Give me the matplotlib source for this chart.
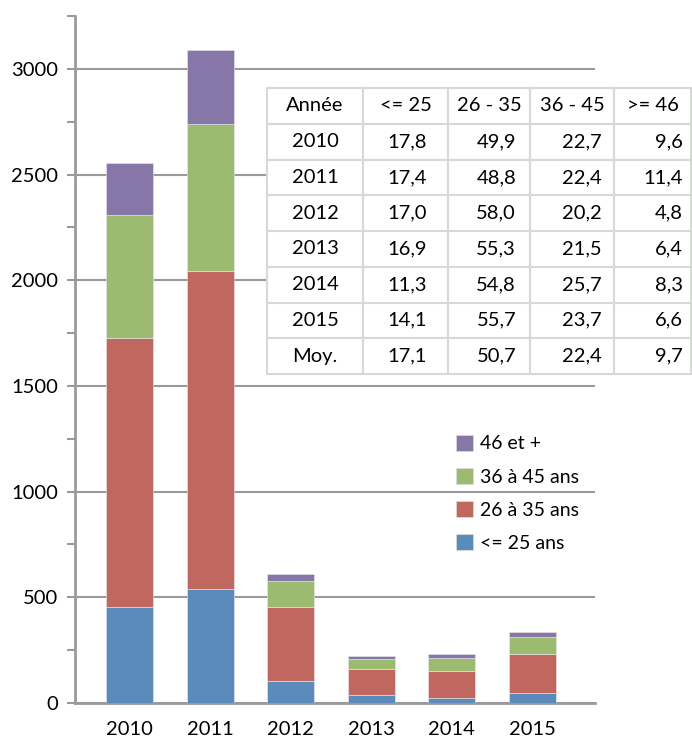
import numpy as np
import matplotlib
matplotlib.use("Agg")
import matplotlib.pyplot as plt
from matplotlib.patches import Patch
from matplotlib.ticker import MultipleLocator

plt.rcParams['font.family'] = ['Lato', 'DejaVu Sans']

# ========================================
# DATA
# ========================================
years = ['2010', '2011', '2012', '2013', '2014', '2015']
age_25 = [454, 538, 103, 37, 26, 47]
age_26_35 = [1274, 1508, 353, 122, 127, 187]
age_36_45 = [580, 692, 123, 47, 60, 79]
age_46 = [245, 352, 29, 14, 19, 22]

series_labels = ['<= 25 ans', '26 à 35 ans', '36 à 45 ans', '46 et +']
series_colors = ['#5A8BBB', '#C0675F', '#9DBB70', '#8677A8']

table_header = ['Année', '<= 25', '26 - 35', '36 - 45', '>= 46']
table_rows = [
    ['2010', '17,8', '49,9', '22,7', '9,6'],
    ['2011', '17,4', '48,8', '22,4', '11,4'],
    ['2012', '17,0', '58,0', '20,2', '4,8'],
    ['2013', '16,9', '55,3', '21,5', '6,4'],
    ['2014', '11,3', '54,8', '25,7', '8,3'],
    ['2015', '14,1', '55,7', '23,7', '6,6'],
    ['Moy.', '17,1', '50,7', '22,4', '9,7'],
]

# ========================================
# STACKED BARS
# ========================================
W, H = 692, 742
fig = plt.figure(figsize=(W / 100, H / 100), dpi=100)
ax = fig.add_axes([75 / W, 39 / H, 520 / W, 687 / H])

x = np.arange(len(years))
bottom = np.zeros(len(years))
for values, color in zip([age_25, age_26_35, age_36_45, age_46], series_colors):
    ax.bar(x, values, width=0.58, bottom=bottom, color=color,
           edgecolor='#e8e8f0', linewidth=0.4, zorder=3)
    bottom += np.array(values)

ax.set_xlim(-0.68, 5.78)
ax.set_ylim(0, 3250)
ax.set_xticks(x)
ax.set_xticklabels(years)
ax.yaxis.set_major_locator(MultipleLocator(500))
ax.yaxis.set_minor_locator(MultipleLocator(250))
ax.set_yticks(np.arange(0, 3001, 500))

ax.grid(True, axis='y', which='major', color='#9a9a9a', linewidth=1.5, zorder=0)
for side in ['top', 'right']:
    ax.spines[side].set_visible(False)
ax.spines['left'].set_color('#9a9a9a')
ax.spines['left'].set_linewidth(2)
ax.spines['bottom'].set_color('#9a9a9a')
ax.spines['bottom'].set_linewidth(2)

ax.tick_params(axis='x', length=0, pad=13, labelsize=14.5)
ax.tick_params(axis='y', which='both', length=6, width=1.5, color='#9a9a9a',
               pad=6, labelsize=14.5)

# ========================================
# LEGEND
# ========================================
handles = [Patch(facecolor=c, edgecolor='#dddddd', linewidth=0.5)
           for c in series_colors]
fig.legend(handles[::-1], series_labels[::-1], loc='upper left',
           bbox_to_anchor=(456 / W, 1 - 435 / H), frameon=False,
           fontsize=14, handlelength=0.85, handleheight=0.85,
           handletextpad=0.4, labelspacing=0.8, borderpad=0,
           borderaxespad=0)

# ========================================
# TABLE OF PERCENTAGES
# ========================================
tax = fig.add_axes([267 / W, 1 - 374 / H, 424 / W, 286 / H])
tax.axis('off')
col_widths = [96, 85, 82, 84, 77]
tbl = tax.table(cellText=table_rows, colLabels=table_header,
                colWidths=[w / sum(col_widths) for w in col_widths],
                bbox=[0, 0, 1, 1], cellLoc='center')
tbl.auto_set_font_size(False)
tbl.set_fontsize(14.5)
right_pad = {1: 0.25, 2: 0.17, 3: 0.15, 4: 0.11}
for (r, c), cell in tbl.get_celld().items():
    cell.set_edgecolor('#d6d9d6')
    cell.set_linewidth(1.5)
    cell.set_facecolor('white')
    if r > 0 and c > 0:
        cell.set_text_props(ha='right')
        cell._loc = 'right'
        cell.PAD = right_pad[c]

fig.savefig('out.png', dpi=100)
